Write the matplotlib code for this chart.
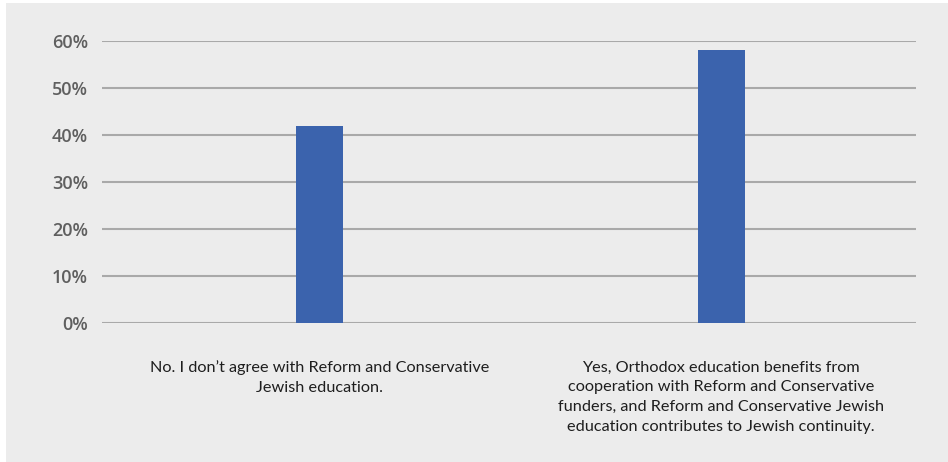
import matplotlib
matplotlib.use('Agg')
import matplotlib.pyplot as plt
from matplotlib.patches import Rectangle
from matplotlib.ticker import PercentFormatter

categories = [
    "No. I don\u2019t agree with Reform and Conservative\nJewish education.",
    "Yes, Orthodox education benefits from\ncooperation with Reform and Conservative\n"
    "funders, and Reform and Conservative Jewish\neducation contributes to Jewish continuity.",
]
values = [0.42, 0.58]
yticks = [0, 0.1, 0.2, 0.3, 0.4, 0.5, 0.6]

W, H = 948, 462
fig = plt.figure(figsize=(W / 100, H / 100), dpi=100)
fig.patch.set_facecolor('white')

# gray panel behind the chart
fig.patches.append(Rectangle((6 / W, 0.5 / H), 1, (H - 3.5) / H,
                             transform=fig.transFigure, facecolor='#ececec',
                             edgecolor='none', zorder=-10))

left, right = 102 / W, 916 / W
bottom, top = (H - 323) / H, (H - 41) / H
ax = fig.add_axes([left, bottom, right - left, top - bottom])
ax.set_facecolor('none')

x = list(range(len(values)))
ax.bar(x, values, width=0.117, color='#3b63ad', zorder=3)

ax.set_ylim(0, 0.6)
ax.set_xlim(-0.5424, 1.485)
ax.set_yticks(yticks)
ax.yaxis.set_major_formatter(PercentFormatter(1.0, decimals=0))
ax.grid(axis='y', color='#a9a9a9', linewidth=1.5, zorder=0)
for s in ax.spines.values():
    s.set_visible(False)
ax.tick_params(axis='y', length=0, pad=10, labelsize=13, labelcolor='#5f5f5f')
for lab in ax.get_yticklabels():
    lab.set_fontfamily('Open Sans')
    lab.set_fontweight('semibold')

ax.set_xticks(x)
ax.set_xticklabels(categories, fontfamily='Lato', fontsize=11.7, color='#1e1e1e',
                   linespacing=1.53, va='top')
ax.tick_params(axis='x', length=0, pad=27)

fig.savefig('out.png', dpi=100)
